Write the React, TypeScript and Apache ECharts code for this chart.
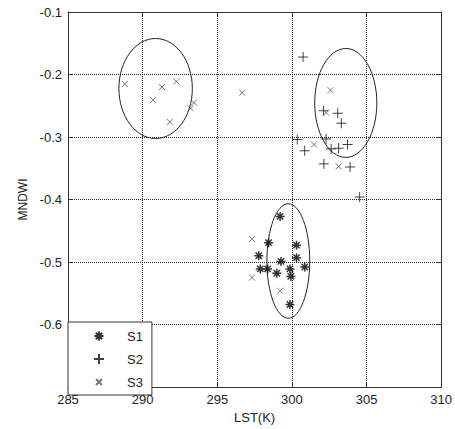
import React, { useEffect, useRef } from 'react';
import * as echarts from 'echarts';

const xMin = 285;
const xMax = 310;
const xStep = 5;
const yMin = -0.7;
const yMax = -0.1;
const yStep = 0.1;
const yTickLabels: Record<string, string> = {
  '-0.6': '-0.6', '-0.5': '-0.5', '-0.4': '-0.4', '-0.3': '-0.3', '-0.2': '-0.2', '-0.1': '-0.1',
};
const xName = 'LST(K)';
const yName = 'MNDWI';
const seriesNames = ['S1', 'S2', 'S3'];

const s1: [number, number][] = [
  [299.21, -0.427], [298.44, -0.469], [300.31, -0.473], [297.78, -0.49], [300.31, -0.493],
  [299.27, -0.499], [297.88, -0.511], [298.37, -0.511], [298.99, -0.518], [299.87, -0.511],
  [300.86, -0.508], [299.93, -0.523], [299.87, -0.568],
];
const s2: [number, number][] = [
  [300.75, -0.172], [302.12, -0.258], [303.07, -0.262], [303.31, -0.278], [300.36, -0.304],
  [300.86, -0.322], [302.29, -0.303], [302.63, -0.319], [303.13, -0.318], [303.73, -0.312],
  [302.14, -0.343], [303.9, -0.348], [304.54, -0.396],
];
const s3: [number, number][] = [
  [288.8, -0.215], [290.7, -0.241], [291.3, -0.22], [292.26, -0.211], [291.82, -0.276],
  [293.21, -0.254], [293.43, -0.245], [296.67, -0.229], [302.58, -0.225], [302.29, -0.261],
  [301.48, -0.312], [303.13, -0.347], [297.33, -0.463], [297.33, -0.525], [299.21, -0.546],
];
// [centerX, centerY, radiusX, radiusY] in data units
const ellipses: [number, number, number, number][] = [
  [290.87, -0.2224, 2.46, 0.08],
  [303.61, -0.2455, 2.08, 0.0871],
  [299.76, -0.4984, 1.435, 0.0916],
];

const FONT = '"Liberation Sans", Arial, sans-serif';
const BOX = 'M0,0M20,20';
const starPath = 'path://' + BOX + 'M10,5.5L10,14.5M5.5,10L14.5,10M6.8,6.8L13.2,13.2M13.2,6.8L6.8,13.2';
const plusPath = 'path://' + BOX + 'M10,5L10,15M5,10L15,10';
const crossPath = 'path://' + BOX + 'M7,7L13,13M13,7L7,13';

export default function App() {
  const ref = useRef<HTMLDivElement>(null);
  useEffect(() => {
    if (!ref.current) return;
    const chart = echarts.init(ref.current, null, { renderer: 'svg' });
    const axisLine = { show: true, lineStyle: { color: '#333', width: 1 } };
    const tick = { show: true, inside: true, length: 4, lineStyle: { color: '#333' } };
    const split = { show: true, lineStyle: { color: '#222', type: 'dotted', width: 1 } };
    chart.setOption({
      animation: false,
      backgroundColor: '#fff',
      grid: { left: 68, right: 9, top: 12, bottom: 40, containLabel: false },
      xAxis: [
        {
          type: 'value', min: xMin, max: xMax, interval: xStep, position: 'bottom',
          name: xName, nameLocation: 'middle', nameGap: 24,
          nameTextStyle: { fontFamily: FONT, fontSize: 13, color: '#222' },
          axisLine, axisTick: tick, splitLine: split,
          axisLabel: { fontFamily: FONT, fontSize: 13, color: '#222', margin: 6 },
        },
        {
          type: 'value', min: xMin, max: xMax, interval: xStep, position: 'top',
          axisLine, axisTick: tick, splitLine: { show: false }, axisLabel: { show: false },
        },
      ],
      yAxis: [
        {
          type: 'value', min: yMin, max: yMax, interval: yStep, position: 'left',
          name: yName, nameLocation: 'middle', nameGap: 36,
          nameTextStyle: { fontFamily: FONT, fontSize: 12, color: '#222' },
          axisLine, axisTick: tick, splitLine: split,
          axisLabel: {
            fontFamily: FONT, fontSize: 13, color: '#222', margin: 6,
            formatter: (v: number) => yTickLabels[v.toFixed(1)] ?? '',
          },
        },
        {
          type: 'value', min: yMin, max: yMax, interval: yStep, position: 'right',
          axisLine, axisTick: tick, splitLine: { show: false }, axisLabel: { show: false },
        },
      ],
      legend: {
        data: seriesNames, orient: 'vertical', left: 68, top: 322,
        itemWidth: 20, itemHeight: 20, itemGap: 1,
        padding: [3, 9, 2, 20],
        backgroundColor: '#fff', borderColor: '#333', borderWidth: 1, borderRadius: 0,
        selectedMode: false,
        textStyle: { fontFamily: FONT, fontSize: 13, color: '#222', padding: [0, 0, 0, 13] },
      },
      series: [
        {
          name: 'ellipses', type: 'custom', data: ellipses, encode: { x: 0, y: 1 }, clip: false,
          renderItem: (params: any, api: any) => {
            const c = api.coord([api.value(0), api.value(1)]);
            const s = api.size([api.value(2), api.value(3)]);
            return {
              type: 'ellipse',
              shape: { cx: c[0], cy: c[1], rx: s[0], ry: s[1] },
              style: { fill: 'none', stroke: '#222', lineWidth: 1 },
            };
          },
          z: 1,
        },
        {
          name: seriesNames[0], type: 'scatter', data: s1, symbol: starPath, symbolSize: 20,
          itemStyle: { color: '#000', borderColor: '#000', borderWidth: 1.5 }, z: 3,
        },
        {
          name: seriesNames[1], type: 'scatter', data: s2, symbol: plusPath, symbolSize: 20,
          itemStyle: { color: '#000', borderColor: '#111', borderWidth: 1 }, z: 3,
        },
        {
          name: seriesNames[2], type: 'scatter', data: s3, symbol: crossPath, symbolSize: 20,
          itemStyle: { color: '#555', borderColor: '#555', borderWidth: 1 }, z: 3,
        },
      ],
    });
    return () => chart.dispose();
  }, []);
  return (
    <div
      ref={ref}
      style={{ position: 'fixed', left: 0, top: 0, width: 455, height: 429, background: '#fff' }}
    />
  );
}
